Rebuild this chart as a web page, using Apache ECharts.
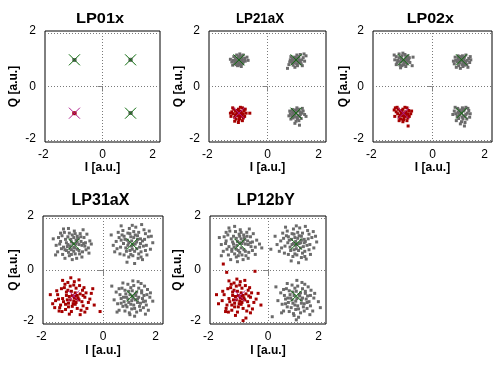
<!DOCTYPE html>
<html><head><meta charset="utf-8">
<script src="https://cdn.jsdelivr.net/npm/echarts@6/dist/echarts.min.js"></script>
<style>html,body{margin:0;padding:0;background:#fff}#c{width:500px;height:370px}</style>
</head><body><div id="c"></div>
<script>
// ---------- DATA (I, Q pairs, flat) ----------
const titles = ['LP01x', 'LP21aX', 'LP02x', 'LP31aX', 'LP12bY'];
const xTickLabels = [-2, 0, 2];
const yTickLabels = [-2, 0, 2];
const refGreen = [[-1, 1], [1, 1], [1, -1]];
const refMagenta = [[-1, -1]];

// LP01x
const lp01_UL = [-1.00,1.00, -0.98,1.01, -1.01,0.99, -0.99,0.98, -1.02,1.01];
const lp01_UR = [1.00,1.00, 1.02,0.99, 0.99,1.01, 1.01,1.02, 0.98,0.99];
const lp01_LR = [1.00,-1.00, 1.01,-0.98, 0.99,-1.01, 1.02,-1.00, 0.98,-0.99];
const lp01_LL = [-1.00,-1.00, -0.99,-1.02, -1.01,-0.99, -0.98,-1.00, -1.02,-1.01];

// LP21aX
const lp21_UL = [-1.00,0.95, -0.92,1.02, -1.08,0.90, -0.95,0.85, -1.12,1.05, -0.85,0.92, -1.02,1.12, -0.90,1.08, -1.15,0.88, -0.98,0.80,
 -1.05,1.00, -0.88,0.98, -1.20,0.98, -0.95,1.15, -1.10,0.82, -0.80,1.05, -1.00,1.08, -0.93,0.90, -1.18,1.12, -1.03,0.87,
 -0.87,0.85, -1.25,0.92, -0.97,1.22, -1.08,1.18, -0.78,0.95, -1.13,0.96, -0.92,0.75, -1.30,1.02, -1.00,1.00, -0.72,1.10,
 -1.05,0.78, -0.85,1.18, -1.22,0.80, -0.68,0.98, -0.96,0.93];
const lp21_UR = [1.00,0.97, 1.08,1.05, 0.92,0.90, 1.15,0.92, 0.88,1.05, 1.02,0.85, 1.10,1.12, 0.95,1.10, 1.20,1.00, 0.85,0.95,
 1.05,0.78, 0.98,1.02, 1.25,1.08, 0.90,0.80, 1.12,0.98, 0.80,1.00, 1.03,1.18, 0.94,0.93, 1.18,0.85, 0.87,0.88,
 1.07,0.92, 1.30,0.95, 0.75,0.82, 1.00,1.08, 1.15,1.20, 0.82,1.12, 0.96,0.72, 1.22,0.78, 0.70,0.68, 1.35,1.15,
 1.04,1.00, 0.90,1.02, 1.10,0.88, 0.78,0.92, 1.28,1.22];
const lp21_LR = [1.00,-1.00, 1.08,-0.92, 0.92,-1.08, 1.15,-1.05, 0.88,-0.95, 1.02,-1.15, 1.10,-0.85, 0.95,-0.88, 1.20,-1.00, 0.85,-1.10,
 1.05,-1.22, 0.98,-0.98, 1.25,-0.92, 0.90,-1.18, 1.12,-1.12, 0.80,-1.02, 1.03,-0.80, 0.94,-1.05, 1.18,-1.20, 0.87,-0.86,
 1.07,-1.08, 1.30,-1.05, 0.78,-0.92, 1.00,-1.30, 1.15,-0.95, 0.82,-1.22, 0.96,-1.38, 1.22,-0.82, 1.35,-1.12, 0.75,-1.10,
 1.04,-0.90, 0.90,-1.00, 1.10,-1.28, 1.12,-1.45, 0.93,-1.12];
const lp21_LL = [-1.00,-1.00, -0.92,-0.95, -1.08,-1.05, -0.95,-1.12, -1.12,-0.92, -0.85,-1.02, -1.02,-0.85, -1.15,-1.15, -0.90,-1.08, -1.05,-0.90,
 -1.20,-1.02, -0.98,-1.20, -0.82,-0.90, -1.10,-1.22, -0.88,-0.80, -1.25,-0.95, -1.03,-1.10, -0.93,-1.02, -1.18,-0.85, -0.80,-1.12,
 -1.07,-0.98, -1.28,-1.12, -0.95,-0.78, -0.75,-1.00, -1.15,-1.30, -0.88,-1.28, -1.02,-1.35, -1.22,-0.80, -0.62,-1.00, -0.97,-0.92,
 -1.12,-1.08, -0.85,-1.18, -1.30,-1.00, -1.00,-1.25, -0.78,-0.85];

// LP02x
const lp02_UL = [-1.00,1.00, -0.90,1.05, -1.10,0.92, -0.95,0.88, -1.15,1.08, -0.85,0.95, -1.05,1.15, -0.92,1.12, -1.20,0.98, -1.00,0.82,
 -1.08,1.02, -0.88,0.85, -1.25,1.12, -0.95,1.20, -1.12,0.80, -0.80,1.08, -1.02,0.95, -0.97,0.92, -1.22,0.88, -1.05,0.78,
 -0.85,1.15, -1.30,1.00, -0.92,0.75, -1.15,1.22, -0.78,0.90, -1.18,0.95, -1.02,1.25, -1.32,1.18, -0.67,1.10, -0.90,0.98,
 -1.08,1.10, -0.82,1.02, -1.25,0.82, -1.10,0.70, -0.70,0.78];
const lp02_UR = [1.00,0.95, 1.08,1.02, 0.92,0.88, 1.15,0.90, 0.88,1.05, 1.02,0.82, 1.10,1.10, 0.95,1.12, 1.20,0.98, 0.85,0.92,
 1.05,0.75, 0.98,1.00, 1.25,1.05, 0.90,0.78, 1.12,0.95, 0.80,0.98, 1.03,1.15, 0.94,0.90, 1.18,0.82, 0.78,1.10,
 1.07,0.88, 1.32,1.00, 0.75,0.85, 1.00,1.08, 1.15,1.18, 0.82,0.72, 0.96,0.68, 1.22,0.72, 1.30,1.12, 0.88,1.15,
 1.04,0.98, 0.90,1.00, 1.10,0.80, 0.72,0.95, 1.28,0.90];
const lp02_LR = [1.00,-1.00, 1.08,-0.92, 0.92,-1.08, 1.15,-1.05, 0.88,-0.95, 1.02,-1.15, 1.10,-0.85, 0.95,-0.88, 1.20,-1.00, 0.85,-1.12,
 1.05,-1.22, 0.98,-0.98, 1.25,-0.90, 0.90,-1.20, 1.12,-1.12, 0.80,-1.02, 1.03,-0.80, 0.94,-1.05, 1.18,-1.22, 0.87,-0.82,
 1.07,-1.10, 1.28,-1.15, 0.75,-0.92, 1.00,-1.32, 1.15,-0.78, 0.82,-1.28, 0.96,-1.40, 1.22,-0.82, 0.70,-1.05, 1.30,-1.02,
 1.04,-0.90, 0.90,-1.00, 1.12,-1.35, 0.78,-0.78, 1.10,-1.48];
const lp02_LL = [-1.00,-1.00, -0.92,-0.95, -1.08,-1.05, -0.95,-1.12, -1.12,-0.92, -0.85,-1.02, -1.02,-0.85, -1.15,-1.15, -0.90,-1.08, -1.05,-0.90,
 -1.20,-1.02, -0.98,-1.20, -0.82,-0.90, -1.10,-1.22, -0.88,-0.80, -1.25,-0.95, -1.03,-1.10, -0.93,-1.02, -1.18,-0.85, -0.80,-1.12,
 -1.07,-0.98, -1.32,-0.88, -0.95,-0.78, -0.75,-1.02, -1.15,-1.28, -0.88,-1.28, -1.02,-1.32, -1.22,-0.78, -0.84,-1.48, -1.30,-1.12,
 -1.12,-1.08, -0.85,-1.18, -0.72,-0.92, -1.00,-1.25, -1.28,-0.80];

// LP31aX
const lp31_UL = [-1.12,0.93, -0.85,1.21, -1.30,0.78, -0.72,0.95, -1.05,1.35, -0.95,0.62, -1.45,1.10, -0.60,1.05, -1.20,1.28, -0.88,0.80,
 -1.02,1.02, -1.35,0.88, -0.78,1.40, -1.15,0.55, -0.50,0.85, -1.60,0.95, -0.92,1.15, -1.25,1.05, -0.70,0.70, -1.08,0.78,
 -0.98,1.50, -1.40,1.32, -0.65,1.25, -1.18,0.68, -0.82,0.98, -1.55,0.70, -0.45,1.12, -1.32,1.45, -0.90,0.45, -1.10,1.18,
 -0.75,1.10, -1.22,0.90, -0.97,0.85, -1.48,1.00, -0.58,0.78, -1.05,0.40, -0.88,1.30, -1.38,0.60, -0.68,1.55, -1.28,1.18,
 -1.00,0.72, -0.80,0.62, -1.15,1.42, -1.70,1.20, -0.40,1.00, -1.08,1.08, -0.93,1.00, -1.25,0.75, -0.62,0.92, -1.42,0.82,
 -0.86,1.22, -1.18,1.60, -0.72,0.50, -1.52,1.25, -0.55,1.38, -1.30,0.45, -1.00,1.25, -0.82,0.75, -1.12,0.82, -1.62,0.58,
 -0.48,0.65, -1.35,1.58, -0.95,1.40, -1.20,0.98, -0.76,1.28, -1.08,0.60, -0.66,1.02, -1.45,1.42, -1.00,0.88, -0.88,1.08];
const lp31_UR = [0.88,1.05, 1.15,0.82, 0.72,1.30, 1.35,1.12, 0.95,0.60, 1.22,1.45, 0.60,0.88, 1.48,0.95, 1.05,1.25, 0.80,0.72,
 1.10,1.00, 0.68,1.52, 1.30,0.70, 0.92,1.40, 1.55,1.28, 0.45,1.10, 1.20,0.45, 0.85,0.95, 1.40,1.55, 1.00,0.80,
 0.75,1.18, 1.28,1.20, 0.58,0.62, 1.12,1.65, 0.98,1.12, 1.62,0.80, 0.35,0.95, 1.38,0.92, 0.82,0.30, 1.18,1.32,
 1.02,0.55, 0.65,1.35, 1.45,1.40, 0.90,1.60, 1.25,0.88, 0.52,1.45, 1.08,0.72, 1.50,0.58, 0.78,0.85, 1.32,1.75,
 0.95,1.28, 1.15,1.08, 0.40,0.70, 1.70,1.05, 0.88,0.50, 1.05,1.48, 0.70,1.02, 1.42,1.18, 0.62,1.70, 1.22,0.62,
 0.98,0.92, 1.35,0.40, 0.55,1.25, 1.10,1.35, 0.83,1.15, 1.58,1.50, 0.28,1.35, 1.28,1.02, 0.92,0.75, 1.08,0.25,
 0.72,0.58, 1.45,0.75, 1.00,1.72, 0.48,0.82, 1.18,1.18, 0.85,1.42, 1.65,1.30, 1.02,0.98, 0.62,1.15, 1.30,0.50];
const lp31_LR = [0.92,-0.95, 1.18,-1.12, 0.75,-0.78, 1.32,-0.88, 1.05,-1.35, 0.62,-1.10, 1.45,-1.20, 0.85,-0.55, 1.22,-0.70, 0.98,-1.50,
 1.10,-0.92, 0.68,-1.40, 1.38,-1.45, 0.80,-1.05, 1.52,-0.75, 0.45,-0.85, 1.15,-1.62, 0.95,-0.68, 1.28,-1.28, 0.72,-1.22,
 1.02,-1.08, 1.60,-1.05, 0.55,-1.55, 1.20,-0.45, 0.88,-1.25, 1.42,-0.62, 0.38,-1.15, 1.08,-1.78, 0.78,-0.92, 1.35,-1.10,
 1.00,-0.80, 0.65,-0.70, 1.25,-1.40, 0.90,-1.65, 1.48,-1.35, 0.50,-1.30, 1.12,-0.98, 1.70,-1.20, 0.82,-1.42, 1.30,-0.52,
 0.98,-1.18, 0.58,-0.95, 1.40,-0.98, 1.05,-0.60, 0.75,-1.58, 1.18,-1.25, 0.30,-0.62, 1.55,-1.55, 0.88,-0.82, 1.08,-1.48,
 0.70,-1.05, 1.32,-0.80, 0.95,-1.32, 1.62,-0.88, 0.48,-1.62, 1.22,-1.05, 0.85,-1.12, 1.45,-1.70, 1.02,-0.42, 0.62,-1.28,
 1.15,-0.85, 0.92,-1.72, 1.38,-1.22, 0.55,-0.72, 1.28,-1.55, 0.78,-1.35, 1.10,-1.15, 1.50,-0.95, 0.68,-0.50, 1.00,-1.00];
const lp31_LL = [-1.05,-0.98, -0.82,-1.15, -1.25,-0.85, -0.95,-1.32, -1.38,-1.10, -0.70,-0.78, -1.12,-0.62, -0.88,-1.48, -1.45,-1.35, -1.00,-1.20,
 -0.62,-1.05, -1.30,-0.55, -1.18,-1.42, -0.78,-0.92, -1.55,-0.95, -0.92,-0.70, -1.08,-1.60, -0.50,-1.25, -1.35,-1.22, -0.85,-1.08,
 -1.20,-0.78, -1.62,-1.18, -0.98,-0.45, -0.68,-1.38, -1.42,-0.72, -1.02,-1.30, -0.58,-0.88, -1.28,-1.52, -0.80,-0.60, -1.15,-1.02,
 -1.72,-1.30, -0.90,-1.12, -1.10,-0.30, -0.45,-1.12, -1.50,-1.58, -0.75,-1.55, -1.22,-1.15, -0.95,-0.88, -1.38,-0.40, -0.65,-0.68,
 -1.05,-1.40, -1.80,-0.95, -0.88,-0.98, -1.25,-0.98, -0.40,-0.90, -1.15,-1.70, -0.72,-1.22, -1.48,-1.45, -0.98,-1.08, -1.32,-0.68,
 -0.55,-1.48, -1.08,-0.82, -0.82,-0.38, -1.58,-0.80, -1.00,-0.58, -0.30,-1.35, -1.18,-1.28, -0.62,-1.62, -1.40,-1.60, -0.92,-1.25,
 -0.10,-1.60, -0.35,-0.72, -1.65,-1.45, -1.12,-1.15, -0.78,-1.72, -1.28,-1.32, -0.96,-1.02, -1.52,-1.12, -0.68,-0.98, -1.20,-0.48];

// LP12bY
const lp12_UL = [-1.10,0.95, -0.82,1.18, -1.28,0.80, -0.70,0.98, -1.02,1.38, -0.92,0.58, -1.48,1.12, -0.55,1.08, -1.22,1.30, -0.85,0.78,
 -1.00,1.05, -1.38,0.90, -0.75,1.45, -1.12,0.50, -0.45,0.88, -1.65,0.98, -0.95,1.20, -1.25,1.08, -0.68,0.68, -1.05,0.75,
 -0.98,1.55, -1.42,1.35, -0.62,1.28, -1.18,0.62, -0.80,1.00, -1.58,0.72, -0.40,1.15, -1.35,1.50, -0.88,0.40, -1.12,1.22,
 -0.72,1.12, -1.20,0.88, -0.95,0.85, -1.50,1.02, -0.55,0.75, -1.08,0.32, -0.86,1.35, -1.40,0.58, -0.66,1.58, -1.30,1.20,
 -1.00,0.68, -0.78,0.55, -1.15,1.48, -1.72,1.25, -0.30,1.00, -1.08,1.10, -0.92,1.02, -1.28,0.72, -0.60,0.90, -1.45,0.80,
 -0.84,1.25, -1.18,1.68, -0.70,0.45, -1.55,1.28, -0.52,1.40, -1.32,0.40, -1.00,1.30, -0.80,0.72, -1.12,0.80, -1.65,0.55,
 -0.45,0.60, -1.38,1.62, -0.95,1.45, -1.22,1.00, -0.74,1.30, -1.05,0.55, -0.62,1.05, -1.48,1.45, -0.22,0.85, -0.88,1.10];
const lp12_UR = [0.90,1.02, 1.15,0.85, 0.72,1.28, 1.32,1.10, 0.95,0.62, 1.22,1.42, 0.60,0.92, 1.48,0.98, 1.05,1.22, 0.80,0.75,
 1.10,1.02, 0.68,1.50, 1.30,0.72, 0.92,1.38, 1.55,1.25, 0.45,1.12, 1.18,0.48, 0.85,0.98, 1.40,1.52, 1.00,0.82,
 0.75,1.15, 1.28,1.18, 0.58,0.65, 1.12,1.62, 0.98,1.10, 1.62,0.85, 0.32,0.98, 1.38,0.95, 0.82,0.35, 1.18,1.30,
 1.02,0.58, 0.65,1.32, 1.45,1.38, 0.90,1.58, 1.25,0.90, 0.52,1.42, 1.08,0.75, 1.50,0.60, 0.78,0.88, 1.32,1.68,
 0.95,1.25, 1.15,1.05, 0.40,0.72, 1.72,1.08, 0.88,0.52, 1.05,1.45, 0.70,1.05, 1.42,1.20, 0.62,1.65, 1.22,0.65,
 0.98,0.95, 1.35,0.42, 0.55,1.22, 1.10,1.32, 0.83,1.18, 1.60,1.48, 0.25,1.30, 1.28,1.05, 0.92,0.78, 1.08,0.28,
 0.72,0.60, 1.45,0.78, 1.00,1.70, 0.48,0.85, 1.18,1.15, 0.85,1.40, 1.68,1.30, 1.02,0.98, 0.10,0.80, 1.30,0.52];
const lp12_LR = [0.92,-0.98, 1.18,-1.15, 0.75,-0.80, 1.32,-0.90, 1.05,-1.38, 0.62,-1.12, 1.45,-1.22, 0.85,-0.58, 1.22,-0.72, 0.98,-1.52,
 1.10,-0.95, 0.68,-1.42, 1.38,-1.48, 0.80,-1.08, 1.52,-0.78, 0.45,-0.88, 1.15,-1.65, 0.95,-0.70, 1.28,-1.30, 0.72,-1.25,
 1.02,-1.10, 1.62,-1.08, 0.55,-1.58, 1.20,-0.48, 0.88,-1.28, 1.42,-0.65, 0.35,-1.18, 1.08,-1.82, 0.78,-0.95, 1.35,-1.12,
 1.00,-0.82, 0.65,-0.72, 1.25,-1.42, 0.90,-1.68, 1.50,-1.38, 0.50,-1.32, 1.12,-1.00, 1.78,-1.22, 0.82,-1.45, 1.30,-0.55,
 0.98,-1.20, 0.58,-0.98, 1.40,-1.00, 1.05,-0.62, 0.75,-1.60, 1.18,-1.28, 0.28,-0.65, 1.58,-1.58, 0.88,-0.85, 1.08,-1.50,
 0.70,-1.08, 1.32,-0.82, 0.95,-1.35, 1.65,-0.90, 0.48,-1.65, 1.22,-1.08, 0.85,-1.15, 1.48,-1.72, 1.02,-0.40, 0.62,-1.30,
 1.15,-0.88, 0.92,-1.75, 1.38,-1.25, 0.55,-0.75, 1.28,-1.58, 0.15,-1.80, 1.85,-1.45, 1.50,-0.98, 0.68,-0.52, 1.00,-1.92];
const lp12_LL = [-1.05,-0.98, -0.82,-1.15, -1.25,-0.85, -0.95,-1.32, -1.38,-1.10, -0.70,-0.78, -1.12,-0.62, -0.88,-1.48, -1.45,-1.35, -1.00,-1.20,
 -0.62,-1.05, -1.30,-0.55, -1.18,-1.42, -0.78,-0.92, -1.55,-0.95, -0.92,-0.70, -1.08,-1.62, -0.50,-1.25, -1.35,-1.22, -0.85,-1.08,
 -1.20,-0.78, -1.62,-1.18, -0.98,-0.45, -0.68,-1.38, -1.42,-0.72, -1.02,-1.30, -0.58,-0.88, -1.28,-1.55, -0.80,-0.60, -1.15,-1.02,
 -1.75,-1.30, -0.90,-1.12, -1.10,-0.35, -0.42,-1.12, -1.50,-1.60, -0.75,-1.58, -1.22,-1.15, -0.95,-0.88, -1.38,-0.42, -0.65,-0.68,
 -1.05,-1.42, -1.82,-0.95, -0.88,-0.98, -1.25,-0.98, -0.35,-0.90, -1.15,-1.75, -0.72,-1.22, -1.48,-1.48, -0.98,-1.08, -1.32,-0.68,
 -0.55,-1.50, -1.08,-0.82, -0.82,-0.40, -1.60,-0.82, -1.00,-0.58, -0.25,-1.35, -1.18,-1.28, -0.62,-1.65, -1.40,-1.62, -0.92,-1.25,
 -1.58,0.23, -1.46,-0.09, -0.46,-0.05, -1.12,-1.15, -0.78,-1.85, -1.28,-1.35, -0.96,-1.02, -0.88,-1.95, -0.68,-1.00, -1.20,-0.50];

const grayClusters = [
  [lp01_UL, lp01_UR, lp01_LR],
  [lp21_UL, lp21_UR, lp21_LR],
  [lp02_UL, lp02_UR, lp02_LR],
  [lp31_UL, lp31_UR, lp31_LR],
  [lp12_UL, lp12_UR, lp12_LR]
];
const redClusters = [lp01_LL, lp21_LL, lp02_LL, lp31_LL, lp12_LL];

// ---------- LAYOUT ----------
const FONT = '"Liberation Sans", Arial, Helvetica, sans-serif';
const layout = [
  {left:45,  top:31,  width:115, height:111, tx:100,   ty:18.5,  fs:15, sx:1.09, xg:19, yg:25, ps:3},
  {left:209, top:31,  width:117, height:111, tx:260,   ty:18.5,  fs:15, sx:0.89, xg:19, yg:24, ps:3},
  {left:373, top:31,  width:119, height:111, tx:430.3, ty:18.5,  fs:15, sx:1.07, xg:19, yg:23, ps:3},
  {left:43,  top:216, width:120, height:108, tx:100.5, ty:200.3, fs:16, sx:1.0,  xg:21, yg:22, ps:3},
  {left:210, top:216, width:116, height:108, tx:265.8, ty:200.3, fs:16, sx:0.99, xg:21, yg:26, ps:3}
];

function pairs(a) { const o = []; for (let i = 0; i < a.length; i += 2) o.push([a[i], a[i + 1]]); return o; }

const grids = [], xAxes = [], yAxes = [], series = [], graphics = [];
const crossPath = 'path://M0,0L10,10M10,0L0,10';

layout.forEach((L, i) => {
  grids.push({left:L.left, top:L.top, width:L.width, height:L.height, show:true,
    borderColor:'#000', borderWidth:1, backgroundColor:'transparent', containLabel:false});
  xAxes.push({
    gridIndex:i, type:'value', min:-2.05, max:2.05,
    axisLine:{show:false}, splitLine:{show:false},
    axisTick:{show:true, customValues:[0], length:5, inside:false, lineStyle:{color:'#888', width:1}},
    axisLabel:{customValues:xTickLabels, color:'#000', fontSize:12, fontFamily:FONT, margin:7,
      formatter: v => v === 2 ? '{r|2}' : (v === -2 ? '{l|-2}' : String(v)),
      rich:{r:{padding:[0,12,0,0], fontSize:12, color:'#000', fontFamily:FONT},
            l:{padding:[0,6,0,0], fontSize:12, color:'#000', fontFamily:FONT}}},
    name:'I [a.u.]', nameLocation:'middle', nameGap:L.xg,
    nameTextStyle:{color:'#000', fontWeight:'bold', fontSize:12, fontFamily:FONT}
  });
  yAxes.push({
    gridIndex:i, type:'value', min:-2.08, max:2.08,
    axisLine:{show:false}, splitLine:{show:false},
    axisTick:{show:true, customValues:[0], length:5, inside:false, lineStyle:{color:'#888', width:1}},
    axisLabel:{customValues:yTickLabels, color:'#000', fontSize:12, fontFamily:FONT, margin:9,
      formatter: v => v === 2 ? '{t|2}' : (v === -2 ? '{b|-2}' : String(v)),
      rich:{t:{padding:[0,0,4,0], fontSize:12, color:'#000', fontFamily:FONT},
            b:{padding:[0,0,3,0], fontSize:12, color:'#000', fontFamily:FONT}}},
    name:'Q [a.u.]', nameLocation:'middle', nameGap:L.yg,
    nameTextStyle:{color:'#000', fontWeight:'bold', fontSize:12, fontFamily:FONT}
  });
  const grayData = [].concat(...grayClusters[i].map(pairs));
  series.push({
    type:'scatter', xAxisIndex:i, yAxisIndex:i, data:grayData, symbol:'rect', symbolSize:L.ps,
    itemStyle:{color:'#6b6b6b', opacity:1}, silent:true, z:3,
    markLine:{silent:true, symbol:['none','none'], label:{show:false}, animation:false, z:1,
      lineStyle:{color:'#7a7a7a', type:[1,2], width:1},
      data:[{xAxis:0},{yAxis:0},{yAxis:2},{yAxis:-2}]}
  });
  series.push({
    type:'scatter', xAxisIndex:i, yAxisIndex:i, data:pairs(redClusters[i]), symbol:'rect', symbolSize:L.ps,
    itemStyle:{color:'#a60000', opacity:1}, silent:true, z:4
  });
  series.push({
    type:'scatter', xAxisIndex:i, yAxisIndex:i, data:refGreen, symbol:crossPath, symbolSize:11,
    itemStyle:{color:'rgba(0,0,0,0)', borderColor:'#0b6b0b', borderWidth:1, opacity:1}, silent:true, z:5
  });
  series.push({
    type:'scatter', xAxisIndex:i, yAxisIndex:i, data:refMagenta, symbol:crossPath, symbolSize:11,
    itemStyle:{color:'rgba(0,0,0,0)', borderColor:'#b0208e', borderWidth:1, opacity:1}, silent:true, z:5
  });
  graphics.push({type:'text', x:L.tx, y:L.ty, scaleX:L.sx, silent:true,
    style:{text:titles[i], fill:'#000', font:'bold ' + L.fs + 'px ' + FONT, textAlign:'center', textVerticalAlign:'middle'}});
});

const chart = echarts.init(document.getElementById('c'), null, {renderer:'canvas'});
chart.setOption({
  animation:false, backgroundColor:'#fff',
  grid:grids, xAxis:xAxes, yAxis:yAxes, series:series, graphic:graphics
});
</script></body></html>
